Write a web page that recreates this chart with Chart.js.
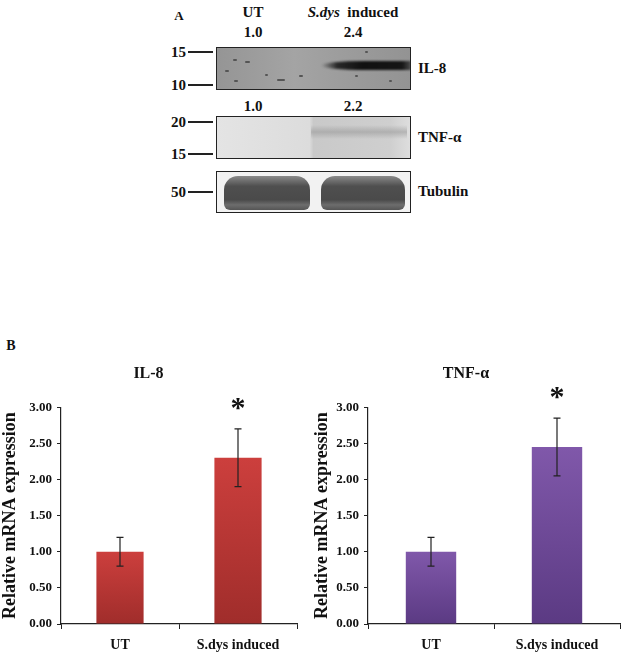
<!DOCTYPE html>
<html>
<head>
<meta charset="utf-8">
<script src="https://cdn.jsdelivr.net/npm/chart.js@4.4.1/dist/chart.umd.min.js"></script>
<style>
  html,body{margin:0;padding:0;background:#fff;}
  body{width:625px;height:655px;position:relative;overflow:hidden;font-family:"Liberation Serif","DejaVu Serif",serif;font-weight:bold;color:#111;}
  .t{position:absolute;white-space:nowrap;transform:translate(-50%,-50%);font-size:15px;line-height:1;}
  .l{position:absolute;white-space:nowrap;transform:translateY(-50%);font-size:15px;line-height:1;}
  .r{position:absolute;white-space:nowrap;transform:translate(-100%,-50%);font-size:15px;line-height:1;}
  .mk{position:absolute;height:1.5px;background:#222;left:188px;width:25px;}
  .box{position:absolute;left:216px;width:193px;border:1.5px solid #222;overflow:hidden;}
  .sp{position:absolute;height:2px;background:#555;border-radius:1px;}
  .c{position:absolute;}
</style>
</head>
<body>
<div class="t" style="left:179px;top:15px;font-size:13px;">A</div>
<div class="t" style="left:253px;top:12px;">UT</div>
<div class="t" style="left:353px;top:12px;"><i>S.dys</i>&nbsp; induced</div>
<div id="dens1"></div>

<!-- IL-8 blot -->
<div class="r" style="left:186px;top:52px;">15</div>
<div class="mk" style="top:51px;"></div>
<div class="r" style="left:186px;top:85px;">10</div>
<div class="mk" style="top:84px;"></div>
<div class="box" style="top:47px;height:41px;background:linear-gradient(90deg,#959595,#a4a4a4 40%,#9e9e9e 60%,#939393);">
  <div style="position:absolute;left:104px;width:90px;top:13px;height:9px;background:linear-gradient(90deg,rgba(20,20,20,0),rgba(20,20,20,.85) 18%,#111 45%,#151515 90%,rgba(30,30,30,.6));border-radius:50% 0 0 50%;filter:blur(1px);"></div>
  <div class="sp" style="left:16px;top:11px;width:4px;"></div>
  <div class="sp" style="left:28px;top:13px;width:5px;"></div>
  <div class="sp" style="left:8px;top:22px;width:4px;"></div>
  <div class="sp" style="left:17px;top:32px;width:4px;"></div>
  <div class="sp" style="left:60px;top:31px;width:8px;"></div>
  <div class="sp" style="left:48px;top:26px;width:3px;"></div>
  <div class="sp" style="left:82px;top:27px;width:4px;"></div>
  <div class="sp" style="left:138px;top:27px;width:3px;"></div>
  <div class="sp" style="left:148px;top:3px;width:3px;"></div>
  <div class="sp" style="left:172px;top:32px;width:3px;"></div>
</div>
<div class="l" style="left:418px;top:68px;">IL-8</div>

<!-- TNF blot -->
<div class="r" style="left:186px;top:122px;">20</div>
<div class="mk" style="top:121px;"></div>
<div class="r" style="left:186px;top:154px;">15</div>
<div class="mk" style="top:153px;"></div>
<div class="box" style="top:116px;height:41px;background:linear-gradient(90deg,#e4e4e4 0%,#dcdcdc 48%,#c9c9c9 50%,#cfcfcf 90%,#dedede 100%);">
  <div style="position:absolute;left:94px;width:96px;top:8px;height:14px;background:linear-gradient(180deg,rgba(150,150,150,0),rgba(150,150,150,.55) 50%,rgba(150,150,150,0));"></div>
</div>
<div class="l" style="left:418px;top:137px;">TNF-α</div>

<!-- Tubulin blot -->
<div class="r" style="left:186px;top:192px;">50</div>
<div class="mk" style="top:191px;"></div>
<div class="box" style="top:171px;height:40px;background:#f2f2f2;">
  <div style="position:absolute;left:7px;width:86px;top:4px;height:34px;border-radius:14px 14px 6px 6px;background:linear-gradient(180deg,#8a8a8a,#4f4f4f 30%,#4a4a4a 70%,#6d6d6d 85%,#555);"></div>
  <div style="position:absolute;left:104px;width:84px;top:4px;height:34px;border-radius:14px 14px 6px 6px;background:linear-gradient(180deg,#8a8a8a,#4f4f4f 30%,#4a4a4a 70%,#6d6d6d 85%,#555);"></div>
</div>
<div class="l" style="left:418px;top:191px;">Tubulin</div>

<div class="t" style="left:11px;top:346px;font-size:14px;">B</div>

<div class="c" style="left:0;top:330px;width:312px;height:325px;"><canvas id="il8"></canvas></div>
<div class="c" style="left:312px;top:330px;width:313px;height:325px;"><canvas id="tnf"></canvas></div>

<script>
// densitometry numbers printed above the blots
const blotLanes = ['UT', 'S.dys induced'];
const il8Band = [1.0, 2.4];
const tnfBand = [1.0, 2.2];

// qPCR bars
const categories = ['UT', 'S.dys induced'];
const il8Mean = [1.0, 2.3];
const il8Err = [0.2, 0.4];
const tnfMean = [1.0, 2.45];
const tnfErr = [0.2, 0.4];
const signif = [false, true];
const yTicks = [0, 0.5, 1, 1.5, 2, 2.5, 3];

const laneX = [253, 353];
function densRow(vals, top){
  return vals.map((v,i)=>`<div class="t" style="left:${laneX[i]}px;top:${top}px;">${v.toFixed(1)}</div>`).join('');
}
document.getElementById('dens1').innerHTML = densRow(il8Band, 32) + densRow(tnfBand, 106);

const serif = '"Liberation Serif","DejaVu Serif",serif';

const errorBars = {
  id: 'errorBars',
  afterDatasetsDraw(chart, args, opts){
    const {ctx, scales:{y}} = chart;
    const meta = chart.getDatasetMeta(0);
    ctx.save();
    ctx.strokeStyle = '#222';
    ctx.lineWidth = 1.2;
    meta.data.forEach((bar,i)=>{
      const v = opts.means[i], e = opts.errs[i];
      const yt = y.getPixelForValue(v+e), yb = y.getPixelForValue(v-e);
      ctx.beginPath();
      ctx.moveTo(bar.x, yt); ctx.lineTo(bar.x, yb);
      ctx.moveTo(bar.x-3.5, yt); ctx.lineTo(bar.x+3.5, yt);
      ctx.moveTo(bar.x-3.5, yb); ctx.lineTo(bar.x+3.5, yb);
      ctx.stroke();
      if(signif[i]){
        ctx.fillStyle = '#111';
        ctx.font = 'bold 30px ' + serif;
        ctx.textAlign = 'center';
        ctx.textBaseline = 'middle';
        ctx.fillText('*', bar.x, yt - 20);
      }
    });
    ctx.restore();
  }
};

function makeChart(id, title, means, errs, top, bottom, yWidth, padRight){
  const el = document.getElementById(id);
  new Chart(el, {
    type: 'bar',
    data: {
      labels: categories,
      datasets: [{
        data: means,
        // gradient runs over each bar, light at its top
        backgroundColor: c => {
          const ys = c.chart.scales.y;
          if(!ys || ys.top === undefined || c.raw === undefined) return top;
          const g = c.chart.ctx.createLinearGradient(0, ys.getPixelForValue(c.raw), 0, ys.getPixelForValue(0));
          g.addColorStop(0, top); g.addColorStop(1, bottom);
          return g;
        },
        barPercentage: 0.4,
        categoryPercentage: 1
      }]
    },
    plugins: [errorBars],
    options: {
      responsive: true,
      maintainAspectRatio: false,
      animation: false,
      layout: {padding: {left: 0, right: padRight, top: 0, bottom: 0}},
      plugins: {
        legend: {display: false},
        tooltip: {enabled: false},
        title: {display: true, text: title, color: '#111',
          font: {family: serif, size: 16, weight: 'bold'}, padding: {top: 34, bottom: 24}},
        errorBars: {means, errs}
      },
      scales: {
        x: {
          offset: true,
          grid: {display: true, drawOnChartArea: false, offset: true, tickLength: 5, color: '#222', tickColor: '#222'},
          border: {color: '#222', width: 1.2},
          ticks: {color: '#111', padding: 8, font: {family: serif, size: 14, weight: 'bold'}},
          afterFit: s => { s.height = 31; }
        },
        y: {
          min: 0, max: 3,
          afterBuildTicks: s => { s.ticks = yTicks.map(v => ({value: v})); },
          grid: {display: true, drawOnChartArea: false, tickLength: 4, color: '#222', tickColor: '#222'},
          border: {color: '#222', width: 1.2},
          ticks: {color: '#111', padding: 5, callback: v => (+v).toFixed(2),
            font: {family: serif, size: 13, weight: 'bold'}},
          title: {display: true, text: 'Relative mRNA expression', color: '#111', padding: 0,
            font: {family: serif, size: 18, weight: 'bold'}},
          afterFit: s => { s.width = yWidth; }
        }
      }
    }
  });
}

makeChart('il8', 'IL-8', il8Mean, il8Err, '#cc3f3d', '#a02d2b', 61, 15);
makeChart('tnf', 'TNF-α', tnfMean, tnfErr, '#8058aa', '#5b3a83', 56, 5);
</script>
</body>
</html>
